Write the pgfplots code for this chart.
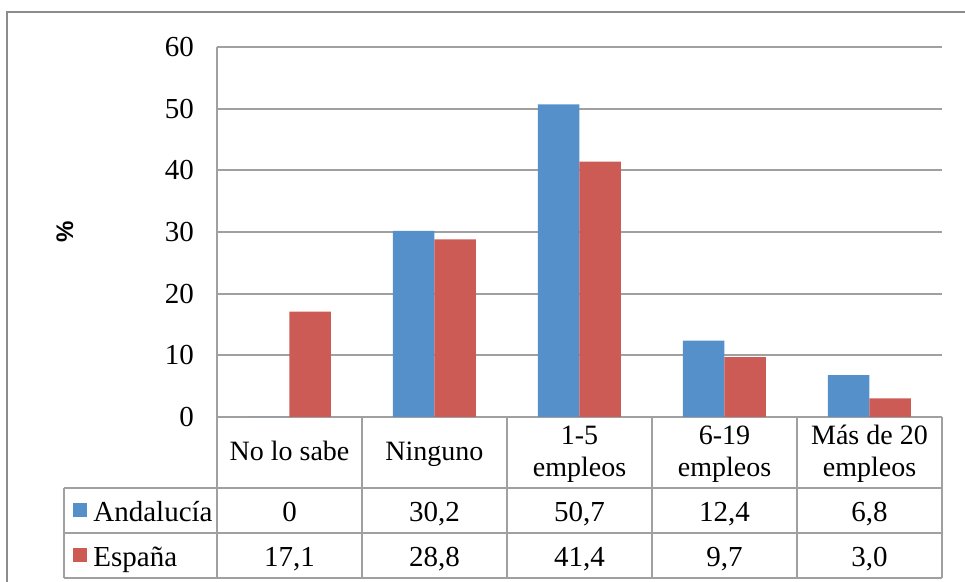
\documentclass[border=0pt]{standalone}
\usepackage{pgfplots}
\pgfplotsset{compat=1.18}
\usepackage{fontspec}
\setmainfont{Liberation Serif}
\setsansfont{Liberation Sans}
\definecolor{barblue}{HTML}{5590CA}
\definecolor{barred}{HTML}{CC5B55}
\definecolor{gridgray}{HTML}{A0A0A0}
\definecolor{framegray}{HTML}{8C8C8C}
\begin{document}
\begin{tikzpicture}
\useasboundingbox (0,0) rectangle (482.5pt,291pt);
\draw[framegray, line width=0.8pt] (3.5pt,-1pt) -- (3.5pt,285pt) -- (484pt,285pt);
\begin{axis}[
 at={(108.5pt,82.5pt)}, anchor=south west,
 scale only axis, width=362.5pt, height=185pt,
 ymin=0, ymax=60, ytick={0,10,...,60},
 xmin=-0.5, xmax=4.5, xtick={0,...,4},
 xticklabels={{\strut No lo sabe}, {\strut Ninguno}, {1-5\\empleos}, {6-19\\empleos}, {Más de 20\\empleos}},
 xticklabel style={anchor=center, yshift=-18.5pt, align=center, font=\fontsize{14}{16}\selectfont},
 yticklabel style={font=\fontsize{14.5}{16}\selectfont, xshift=-8pt},
 /pgf/number format/assume math mode=true,
 major tick length=0pt,
 axis lines*=left,
 axis line style={gridgray, line width=1pt},
 ymajorgrids, grid style={gridgray, line width=1pt},
 ybar=0pt, bar width=20.75pt,
 ylabel={\%},
 ylabel style={at={(axis description cs:-0.21,0.5)}, anchor=center, font=\sffamily\bfseries\fontsize{12}{14}\selectfont},
 clip=false,
]
\addplot[fill=barblue, draw=none] coordinates {(0,0) (1,30.2) (2,50.7) (3,12.4) (4,6.8)};
\addplot[fill=barred, draw=none] coordinates {(0,17.1) (1,28.8) (2,41.4) (3,9.7) (4,3.0)};
\end{axis}
% data table grid
\begin{scope}[gridgray, line width=1pt]
\foreach \x in {108.5,181,253.5,326,398.5,471} {\draw (\x pt,82.5pt) -- (\x pt,2pt);}
\draw (32pt,47pt) -- (32pt,2pt);
\foreach \y in {47,24.5,2} {\draw (32pt,\y pt) -- (471pt,\y pt);}
\end{scope}
% legend keys
\fill[barblue] (36.5pt,32.5pt) rectangle (43.5pt,39.5pt);
\fill[barred] (36.5pt,10pt) rectangle (43.5pt,17pt);
\begin{scope}[every node/.style={inner sep=0pt, font=\fontsize{14.5}{16}\selectfont}]
\node[anchor=base west] at (46.5pt,30pt) {Andalucía};
\node[anchor=base west] at (46.5pt,7.8pt) {España};
\node[anchor=base] at (144.75pt,30pt) {0};
\node[anchor=base] at (217.25pt,30pt) {30,2};
\node[anchor=base] at (289.75pt,30pt) {50,7};
\node[anchor=base] at (362.25pt,30pt) {12,4};
\node[anchor=base] at (434.75pt,30pt) {6,8};
\node[anchor=base] at (144.75pt,7.8pt) {17,1};
\node[anchor=base] at (217.25pt,7.8pt) {28,8};
\node[anchor=base] at (289.75pt,7.8pt) {41,4};
\node[anchor=base] at (362.25pt,7.8pt) {9,7};
\node[anchor=base] at (434.75pt,7.8pt) {3,0};
\end{scope}
\end{tikzpicture}
\end{document}
